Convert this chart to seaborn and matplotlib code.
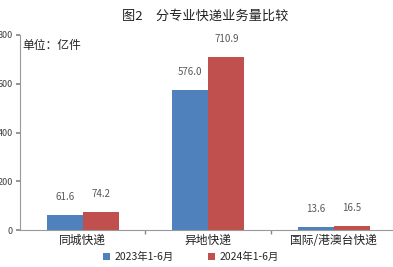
import matplotlib
matplotlib.use("Agg")
import matplotlib.pyplot as plt
import seaborn as sns
import pandas as pd

categories = ["同城快递", "异地快递", "国际/港澳台快递"]
series_names = ["2023年1-6月", "2024年1-6月"]
values_2023 = [61.6, 576.0, 13.6]
values_2024 = [74.2, 710.9, 16.5]
yticks = [0, 200, 400, 600, 800]

df = pd.DataFrame({
    "cat": categories * 2,
    "series": [series_names[0]] * 3 + [series_names[1]] * 3,
    "value": values_2023 + values_2024,
})

sns.set_theme(style="white")
plt.rcParams['font.family'] = ['Noto Sans CJK SC', 'DejaVu Sans']

W, H = 393, 267
fig = plt.figure(figsize=(W / 100, H / 100), dpi=100)
ax = fig.add_axes([20 / W, (H - 230) / H, 376.5 / W, 195 / H])

colors = ["#4F81BD", "#C0504D"]
sns.barplot(data=df, x="cat", y="value", hue="series", order=categories,
            hue_order=series_names, palette=colors, width=0.576, gap=0,
            saturation=1, linewidth=0, ax=ax, legend=False)

for cont in ax.containers:
    ax.bar_label(cont, fmt="%.1f", padding=9, fontsize=7, color="#595959")

ax.set_ylim(0, 800)
ax.set_xlim(-0.5, 2.5)
ax.set_yticks(yticks)
ax.set_yticklabels([str(t) for t in yticks], fontsize=6.5, color="#404040")
ax.set_xlabel("")
ax.set_ylabel("")
ax.set_xticks([0, 1, 2])
ax.set_xticklabels(categories, fontsize=8.5, color="#222222")
ax.tick_params(axis="x", length=0, pad=3)
ax.tick_params(axis="y", length=3, color="#888888", direction="out", pad=2, left=True)
ax.set_xticks([0.5, 1.5], minor=True)
ax.tick_params(axis="x", which="minor", length=3, color="#888888", bottom=True, direction="out")

for s in ["top", "right"]:
    ax.spines[s].set_visible(False)
for s in ["left", "bottom"]:
    ax.spines[s].set_color("#999999")
    ax.spines[s].set_linewidth(0.8)

fig.text(205 / W, 1 - 16 / H, "图2　分专业快递业务量比较", ha="center", va="center",
         fontsize=9.5, color="#222222")
fig.text(22 / W, 1 - 45 / H, "单位：亿件", ha="left", va="center",
         fontsize=8.5, color="#222222")

from matplotlib.patches import Patch
handles = [Patch(facecolor=c, edgecolor="none") for c in colors]
fig.legend(handles, series_names, loc="center", bbox_to_anchor=(191 / W, 1 - 257 / H),
           ncol=2, frameon=False, fontsize=7.5, handlelength=0.7, handleheight=0.7,
           handletextpad=0.4, columnspacing=3.3)

fig.savefig("out.png", dpi=100)
